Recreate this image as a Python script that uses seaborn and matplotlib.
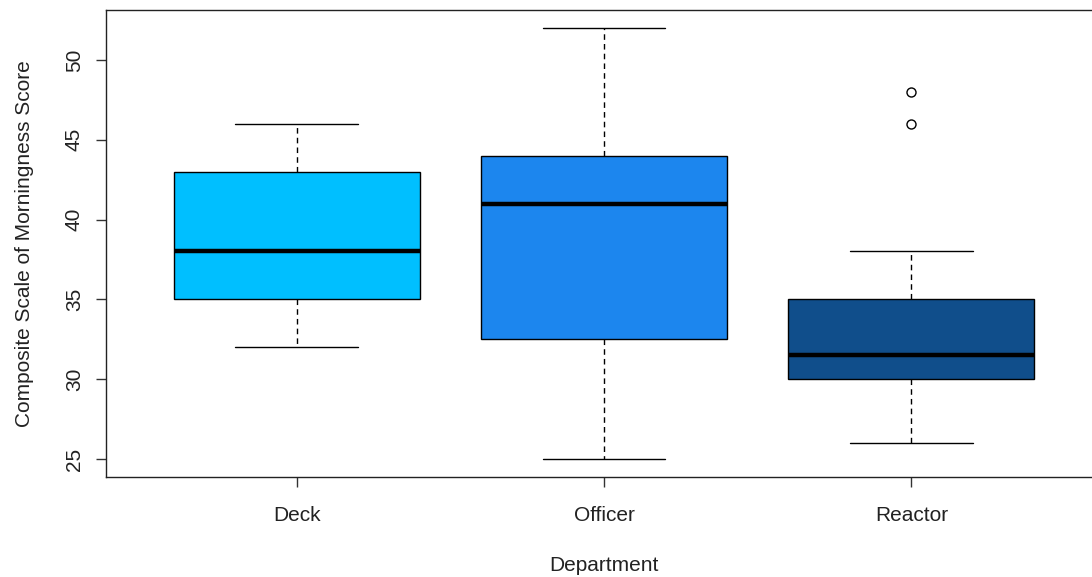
import numpy as np
import pandas as pd
import matplotlib
matplotlib.use('Agg')
import matplotlib.pyplot as plt
import seaborn as sns

# Composite Scale of Morningness scores by department
departments = ['Deck', 'Officer', 'Reactor']
deck_scores = [32, 35, 38, 43, 46]
officer_scores = [25, 32.5, 41, 44, 52]
reactor_scores = [26, 28, 29, 30, 30, 31, 31, 32, 33, 35, 35, 38, 46, 48]
box_colors = ['#00BFFF', '#1C86EE', '#104E8B']

df = pd.DataFrame({
    'Department': ['Deck'] * len(deck_scores) + ['Officer'] * len(officer_scores)
                  + ['Reactor'] * len(reactor_scores),
    'Score': deck_scores + officer_scores + reactor_scores,
})

sns.set_style('white')
plt.rcParams['font.family'] = ['Liberation Sans', 'DejaVu Sans']

fig = plt.figure(figsize=(10.92, 5.77), dpi=100)
ax = fig.add_axes([106 / 1092, 1 - 477 / 577, 996 / 1092, 467 / 577])

sns.boxplot(data=df, x='Department', y='Score', hue='Department',
            order=departments, hue_order=departments, palette=box_colors,
            saturation=1, width=0.8, linecolor='black', linewidth=1.0,
            legend=False, ax=ax,
            whiskerprops=dict(linestyle=(0, (4, 3)), color='black', linewidth=1.0),
            capprops=dict(color='black', linewidth=1.0),
            medianprops=dict(color='black', linewidth=3.2),
            flierprops=dict(marker='o', markersize=6.5, markerfacecolor='none',
                            markeredgecolor='black', markeredgewidth=1.0))

ax.set_xlim(-0.62, 2.62)
ax.set_ylim(23.87, 53.13)
ax.set_yticks([25, 30, 35, 40, 45, 50])
ax.set_yticklabels(['25', '30', '35', '40', '45', '50'], rotation=90, va='center')

for side in ['left', 'right', 'top', 'bottom']:
    ax.spines[side].set_visible(True)
    ax.spines[side].set_color('#222222')
    ax.spines[side].set_linewidth(1.0)

ax.tick_params(axis='both', direction='out', length=7, width=1.0, color='#333333',
               labelsize=15, labelcolor='#222222', left=True, bottom=True)
ax.tick_params(axis='x', pad=14)
ax.tick_params(axis='y', pad=9)
ax.set_xlabel('Department', fontsize=15, color='#222222', labelpad=22)
ax.set_ylabel('Composite Scale of Morningness Score', fontsize=15, color='#222222',
              labelpad=22)

fig.savefig('out.png', dpi=100)
